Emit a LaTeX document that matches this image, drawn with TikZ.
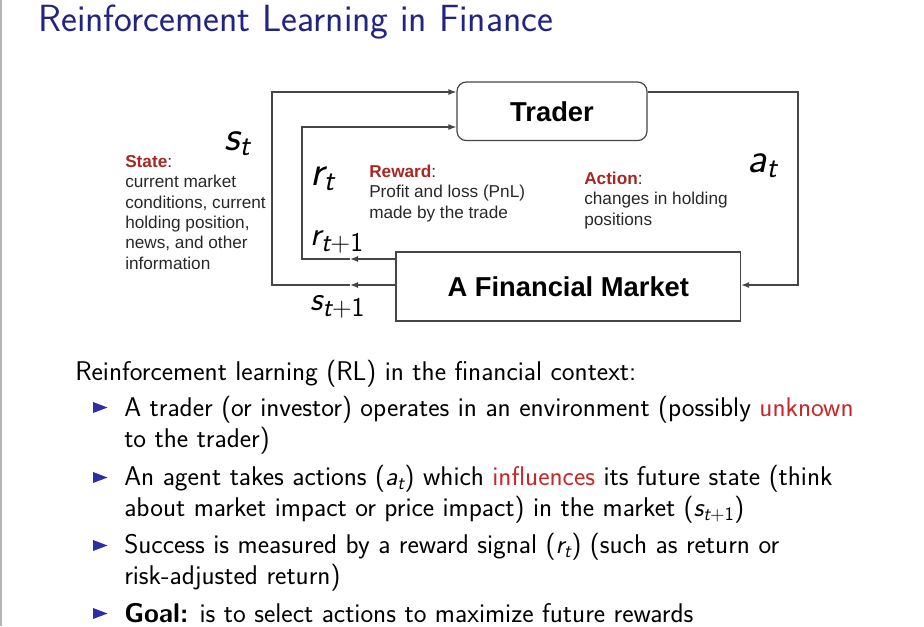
\documentclass[tikz,border=0pt]{standalone}
\usepackage{fontspec}
\usepackage{graphicx}
\newfontfamily\arialf{Liberation Sans}
\usetikzlibrary{arrows.meta}

\definecolor{titleblue}{RGB}{35,35,130}
\definecolor{bulletblue}{RGB}{45,45,165}
\definecolor{alertred}{RGB}{200,40,40}
\definecolor{labelred}{RGB}{165,40,35}
\definecolor{wire}{RGB}{70,70,70}
\definecolor{figtext}{RGB}{40,40,40}
\definecolor{frameline}{RGB}{180,180,180}

% italic sans variable with a subscript
\newcommand\svar[2]{{\itshape #1\textsubscript{#2}}}
% same, with a larger subscript for the diagram's t+1 labels
\newcommand\svarbig[2]{{\itshape #1\raisebox{-0.2em}{\scalebox{0.8}{#2}}}}

\tikzset{
  slidetext/.style={anchor=base west, inner sep=0pt, align=left,
    font=\sffamily\fontsize{20.3}{22.9}\selectfont},
  figlabel/.style={anchor=base west, inner sep=0pt, align=left, text=figtext,
    font=\arialf\fontsize{12.9}{15.2}\selectfont},
  bigvar/.style={anchor=base west, inner sep=0pt, font=\sffamily\fontsize{32}{36}\selectfont},
  midvar/.style={anchor=base west, inner sep=0pt, font=\sffamily\fontsize{25.5}{30}\selectfont},
  agentbox/.style={draw=wire, line width=0.9pt, rounded corners=7pt, text=black,
    font=\arialf\bfseries\fontsize{20.5}{24}\selectfont},
  envbox/.style={draw=wire, line width=0.9pt, text=black,
    font=\arialf\bfseries\fontsize{20.5}{24}\selectfont},
  wireline/.style={draw=wire, line width=0.9pt},
  tip/.style={-{Latex[length=6pt,width=4.5pt]}},
  bullet/.style={fill=bulletblue, draw=none},
}

\begin{document}
\begin{tikzpicture}[x=0.75pt,y=-0.75pt]
\useasboundingbox (0,0) rectangle (924,626);
\fill[white] (0,0) rectangle (924,626);
\draw[frameline, line width=1.4pt] (1,0) -- (1,626);

% title
\node[anchor=base west, inner sep=0pt, text=titleblue,
  font=\sffamily\fontsize{28.4}{34}\selectfont] (title) at (38,31)
  {Reinforcement Learning in Finance};

% agent and environment
\node[agentbox, minimum width=142.5pt, minimum height=43.9pt] (trader) at (552,111.3) {Trader};
\node[envbox, minimum width=258.4pt, minimum height=51.8pt] (market) at (568.3,286.5) {A Financial Market};

% routing points of the loops
\coordinate (stop) at (272,92);
\coordinate (sturn) at (272,285);
\coordinate (smid) at (350,285);
\coordinate (rtop) at (302,127);
\coordinate (rturn) at (302,259);
\coordinate (rmid) at (350,259);
\coordinate (atop) at (798,92);
\coordinate (abot) at (798,285);

% state loop
\draw[wireline, tip] (market.west |- smid) -- (smid);
\draw[wireline, tip] (smid) -- (sturn) -- (stop) -- (trader.west |- stop);
% reward loop
\draw[wireline, tip] (market.west |- rmid) -- (rmid);
\draw[wireline, tip] (rmid) -- (rturn) -- (rtop) -- (trader.west |- rtop);
% action
\draw[wireline, tip] (trader.east |- atop) -- (atop) -- (abot) -- (market.east |- abot);

% variable labels (anchored at their baselines)
\node[bigvar] (st) at (224,150) {\svar{s}{t}};
\node[bigvar] (rt) at (310,185) {\svar{r}{t}};
\node[bigvar] (at) at (747,172) {\svar{a}{t}};
\node[midvar] (rt1) at (310,245) {\svarbig{r}{t{\upshape+1}}};
\node[midvar] (st1) at (310,310) {\svarbig{s}{t{\upshape+1}}};

% descriptions (anchored at the baseline of their last line)
\node[figlabel] (state) at (125,269) {{\bfseries\color{labelred}State}:\\current market\\conditions, current\\holding position,\\news, and other\\information};
\node[figlabel] (reward) at (369,218) {{\bfseries\color{labelred}Reward}:\\Profit and loss (PnL)\\made by the trade};
\node[figlabel] (action) at (584,225) {{\bfseries\color{labelred}Action}:\\changes in holding\\positions};

% slide text
\node[slidetext] (intro) at (75,380) {Reinforcement learning (RL) in the financial context:};

\foreach \y in {416,486,554,622}
  \fill[bullet] (93,\y-14) -- (107.5,\y-8.5) -- (93,\y-3) -- cycle;

\node[slidetext] (b1) at (124,447) {A trader (or investor) operates in an environment (possibly {\color{alertred}unknown}\\to the trader)};
\node[slidetext] (b2) at (124,516) {An agent takes actions (\svar{a}{t}) which {\color{alertred}influences} its future state (think\\about market impact or price impact) in the market (\svar{s}{t{\upshape+1}})};
\node[slidetext] (b3) at (124,584) {Success is measured by a reward signal (\svar{r}{t}) (such as return or\\risk-adjusted return)};
\node[slidetext] (b4) at (124,622) {\textbf{Goal:} is to select actions to maximize future rewards};
\end{tikzpicture}
\end{document}
